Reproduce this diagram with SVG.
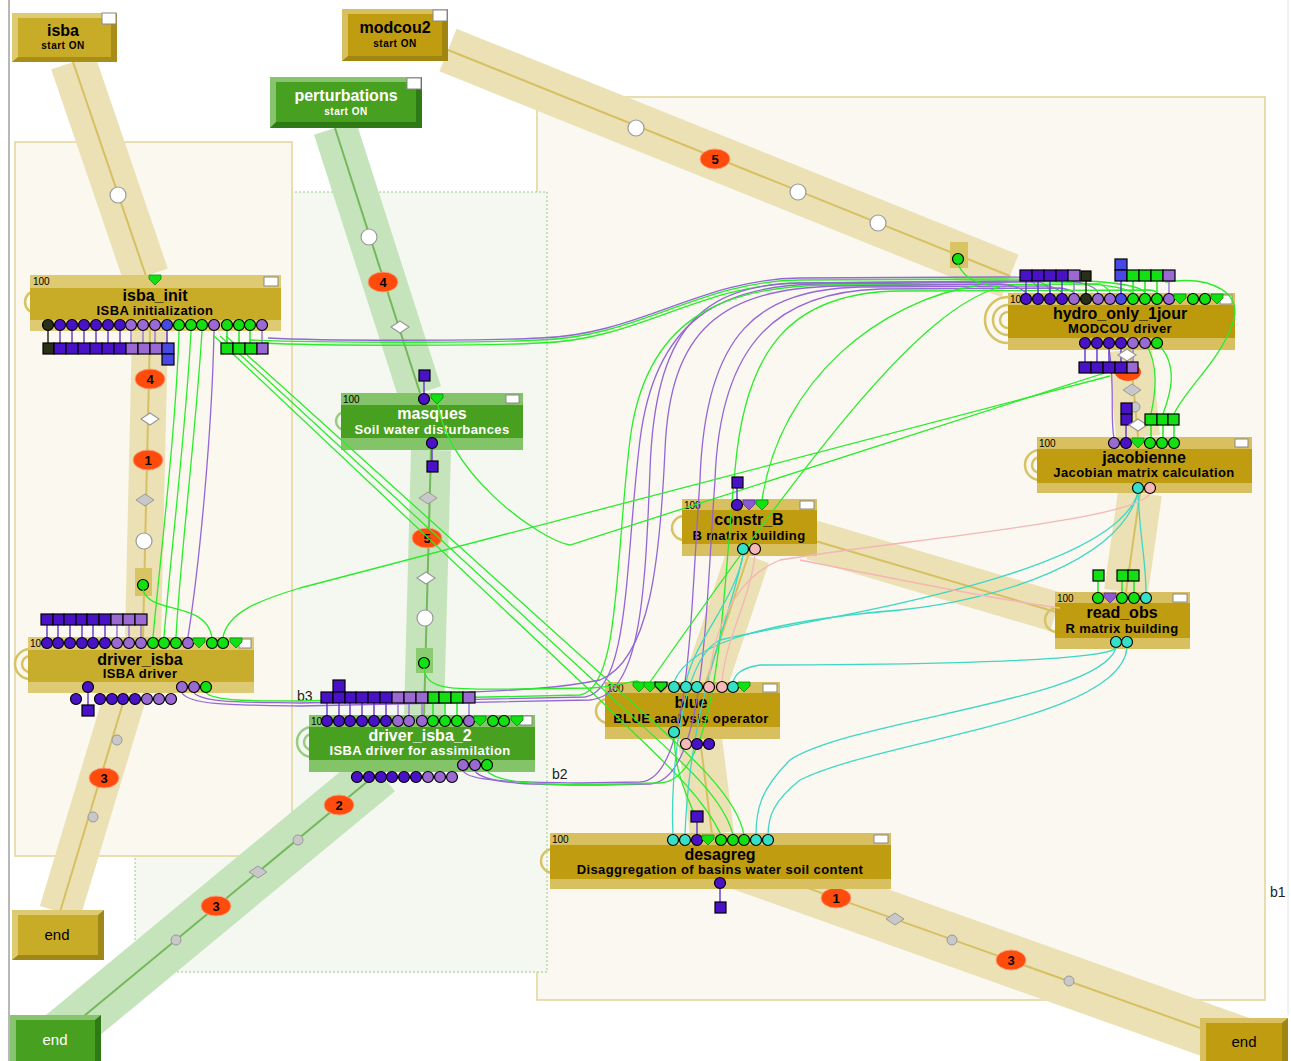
<svg xmlns="http://www.w3.org/2000/svg" xmlns:xlink="http://www.w3.org/1999/xlink" width="1291" height="1061" viewBox="0 0 1291 1061">
<style>
text{font-family:"Liberation Sans",Arial,sans-serif}
.tt{font-size:16px;font-weight:bold;text-anchor:middle}
.ts{font-size:13px;font-weight:bold;text-anchor:middle;letter-spacing:0.4px}
.w{fill:#fff}
.num{font-size:10px}
.chk{fill:#fff;stroke:#888;stroke-width:1}
.d{fill:#4a12c6;stroke:#000;stroke-width:1.2}
.l{fill:#9a6ad2;stroke:#000;stroke-width:1.2}
.g{fill:#12e012;stroke:#000;stroke-width:1.2}
.b{fill:#4848e4;stroke:#000;stroke-width:1.2}
.k{fill:#283018;stroke:#000;stroke-width:1.2}
.c{fill:#34e0c8;stroke:#000;stroke-width:1.2}
.p{fill:#f6b8b8;stroke:#000;stroke-width:1.2}
.tg{fill:#12e012;stroke:#0a8a0a;stroke-width:0.8}
.tp{fill:#8a5ad0;stroke:#5a2aa0;stroke-width:0.8}
.td{fill:#12e012;stroke:#000;stroke-width:1.2}
.lnd{stroke:#6a40d0;stroke-width:1.5;fill:none}
.lnl{stroke:#a07ad8;stroke-width:1.5;fill:none}
.lng{stroke:#22e822;stroke-width:1.5;fill:none}
.lnk{stroke:#283018;stroke-width:1.5;fill:none}
.loopT{fill:none;stroke:#d8c266;stroke-width:2.5}
.loopG{fill:none;stroke:#98cc80;stroke-width:2.5}
.bt{fill:none;stroke:#ebe1b4}
.btl{fill:none;stroke:#d6c062;stroke-width:2}
.bg{fill:none;stroke:#c6e4bc}
.bgl{fill:none;stroke:#74b85c;stroke-width:2}
.ord ellipse{fill:#ff4c0c;stroke:#f8a080;stroke-width:1}
.ord text{font-size:13px;font-weight:bold;text-anchor:middle}
.mw{fill:#fff;stroke:#999;stroke-width:1.2}
.mg{fill:#c8c8c8;stroke:#999;stroke-width:1}
.cg{fill:none;stroke:#2aec2a;stroke-width:1.3}
.cp{fill:none;stroke:#9466d6;stroke-width:1.3}
.cc{fill:none;stroke:#3cd8c4;stroke-width:1.3}
.ck{fill:none;stroke:#f4b6b6;stroke-width:1.3}
.lbl{font-size:14px;fill:#222}
.st1{font-size:16px;font-weight:bold;text-anchor:middle}
.st2{font-size:10px;font-weight:bold;text-anchor:middle;letter-spacing:0.5px}
.en{font-size:15px;text-anchor:middle}
</style>
<defs>
<path id="tri" d="M-6,-5 H6 V-1 L0,5 L-6,-1Z"/>
<path id="dia" d="M-9,0 L0,-6 L9,0 L0,6Z"/>
</defs>
<rect width="1291" height="1061" fill="#fff"/>
<line x1="9" y1="0" x2="9" y2="1061" stroke="#b8b8b8" stroke-width="2"/>
<line x1="1288" y1="0" x2="1288" y2="1015" stroke="#e4e4e4" stroke-width="1"/>

<g id="regions">
<rect x="537" y="97" width="728" height="903" fill="#faf8f0" stroke="#e2d396" stroke-width="1.5"/>
<rect x="135" y="192" width="412" height="780" fill="#f4f8f1" stroke="#98cc88" stroke-width="1" stroke-dasharray="2,2"/>
<rect x="15" y="142" width="277" height="714" fill="#faf8ef" stroke="#e4d49c" stroke-width="1.5"/>
<text x="297" y="701" class="lbl">b3</text>
<text x="552" y="779" class="lbl">b2</text>
<text x="1270" y="897" class="lbl">b1</text>
</g>

<g id="bands">
<line x1="73" y1="62" x2="146" y2="276" class="bt" stroke-width="46"/>
<line x1="150" y1="331" x2="143" y2="637" class="bt" stroke-width="36"/>
<line x1="126" y1="693" x2="60" y2="912" class="bt" stroke-width="42"/>
<line x1="448" y1="50" x2="1010" y2="276" class="bt" stroke-width="46"/>
<line x1="1130" y1="350" x2="1138" y2="437" class="bt" stroke-width="44"/>
<line x1="1140" y1="493" x2="1126" y2="592" class="bt" stroke-width="44"/>
<line x1="1056" y1="612" x2="812" y2="540" class="bt" stroke-width="40"/>
<polyline points="748,556 706,682 700,739 712,834" class="bt" stroke-width="44"/>
<line x1="740" y1="864" x2="1245" y2="1044" class="bt" stroke-width="52"/>
<line x1="335" y1="128" x2="420" y2="393" class="bg" stroke-width="44"/>
<line x1="431" y1="450" x2="424" y2="715" class="bg" stroke-width="40"/>
<line x1="379" y1="772" x2="55" y2="1040" class="bg" stroke-width="50"/>
<line x1="73" y1="62" x2="146" y2="276" class="btl"/>
<line x1="150" y1="331" x2="143" y2="637" class="btl"/>
<line x1="126" y1="693" x2="60" y2="912" class="btl"/>
<line x1="448" y1="50" x2="1010" y2="276" class="btl"/>
<line x1="1130" y1="350" x2="1138" y2="437" class="btl"/>
<line x1="1140" y1="493" x2="1126" y2="592" class="btl"/>
<line x1="1056" y1="612" x2="812" y2="540" class="btl"/>
<polyline points="748,556 706,682 700,739 712,834" class="btl"/>
<line x1="760" y1="871" x2="1245" y2="1044" class="btl"/>
<line x1="335" y1="128" x2="420" y2="393" class="bgl"/>
<line x1="431" y1="450" x2="424" y2="715" class="bgl"/>
<line x1="379" y1="772" x2="55" y2="1040" class="bgl"/>
</g>

<g id="markers">
<circle cx="118" cy="195" r="8" class="mw"/>
<g class="ord"><ellipse cx="150" cy="379" rx="15" ry="10"/><text x="150" y="384">4</text></g>
<use href="#dia" x="150" y="419" class="mw"/>
<g class="ord"><ellipse cx="148" cy="460" rx="15" ry="10"/><text x="148" y="465">1</text></g>
<use href="#dia" x="145" y="500" class="mg"/>
<circle cx="144" cy="541" r="8" class="mw"/>
<rect x="135" y="568" width="17" height="28" fill="#d8c462"/>
<circle cx="143" cy="585" r="5.5" class="g"/>
<circle cx="117" cy="740" r="5" class="mg"/>
<g class="ord"><ellipse cx="104" cy="778" rx="15" ry="10"/><text x="104" y="783">3</text></g>
<circle cx="93" cy="817" r="5" class="mg"/>
<circle cx="369" cy="237" r="8" class="mw"/>
<g class="ord"><ellipse cx="383" cy="282" rx="15" ry="10"/><text x="383" y="287">4</text></g>
<use href="#dia" x="400" y="327" class="mw"/>
<use href="#dia" x="428" y="498" class="mg"/>
<g class="ord"><ellipse cx="427" cy="538" rx="15" ry="10"/><text x="427" y="543">5</text></g>
<use href="#dia" x="426" y="578" class="mw"/>
<circle cx="425" cy="618" r="8" class="mw"/>
<rect x="416" y="648" width="17" height="25" fill="#8ccc70"/>
<circle cx="424" cy="663" r="5.5" class="g"/>
<g class="ord"><ellipse cx="339" cy="805" rx="15" ry="10"/><text x="339" y="810">2</text></g>
<circle cx="298" cy="840" r="5" class="mg"/>
<use href="#dia" x="258" y="872" class="mg"/>
<g class="ord"><ellipse cx="216" cy="906" rx="15" ry="10"/><text x="216" y="911">3</text></g>
<circle cx="176" cy="940" r="5" class="mg"/>
<circle cx="636" cy="128" r="8" class="mw"/>
<g class="ord"><ellipse cx="715" cy="159" rx="15" ry="10"/><text x="715" y="164">5</text></g>
<circle cx="798" cy="192" r="8" class="mw"/>
<circle cx="878" cy="223" r="8" class="mw"/>
<rect x="950" y="242" width="18" height="26" fill="#d8c462"/>
<circle cx="958" cy="259" r="5.5" class="g"/>
<ellipse cx="1128" cy="372" rx="13" ry="9" fill="#ff4c0c"/>
<use href="#dia" x="1132" y="390" class="mg"/>
<circle cx="1135" cy="407" r="5" class="mg"/>
<g class="ord"><ellipse cx="836" cy="898" rx="15" ry="10"/><text x="836" y="903">1</text></g>
<use href="#dia" x="895" y="919" class="mg"/>
<circle cx="952" cy="940" r="5" class="mg"/>
<g class="ord"><ellipse cx="1011" cy="960" rx="15" ry="10"/><text x="1011" y="965">3</text></g>
<circle cx="1069" cy="981" r="5" class="mg"/>
</g>

<g id="isba">
<rect x="12" y="13" width="105" height="49" fill="#a88e18"/>
<polygon points="12,13 117,13 111,18 18,18 18,57 12,62" fill="#ddca72"/>
<rect x="18" y="18" width="93" height="39" fill="#c8ac28"/>
<rect x="102" y="13" width="14" height="11" class="chk"/>
<text x="63" y="36" class="st1">isba</text>
<text x="63" y="49" class="st2">start ON</text>
</g>
<g id="modcou2">
<rect x="342" y="9" width="106" height="52" fill="#a08510"/>
<polygon points="342,9 448,9 442,14 348,14 348,56 342,61" fill="#d8c060"/>
<rect x="348" y="14" width="94" height="42" fill="#bf9c10"/>
<rect x="433" y="10" width="14" height="11" class="chk"/>
<text x="395" y="33" class="st1">modcou2</text>
<text x="395" y="47" class="st2">start ON</text>
</g>
<g id="perturbations">
<rect x="270" y="77" width="152" height="51" fill="#2e7a14"/>
<polygon points="270,77 422,77 416,82 276,82 276,122 270,128" fill="#88c470"/>
<rect x="276" y="82" width="140" height="40" fill="#48a020"/>
<rect x="407" y="78" width="14" height="11" class="chk"/>
<text x="346" y="101" class="st1 w">perturbations</text>
<text x="346" y="115" class="st2 w">start ON</text>
</g>
<g id="end_isba">
<rect x="12" y="910" width="92" height="50" fill="#a08818"/>
<polygon points="12,910 104,910 98,915 18,915 18,955 12,960" fill="#ddca72"/>
<rect x="18" y="915" width="80" height="40" fill="#c8ac28"/>
<text x="57" y="940" class="en">end</text>
</g>
<g id="end_pert">
<rect x="10" y="1015" width="91" height="46" fill="#2e7a14"/>
<polygon points="10,1015 101,1015 95,1020 16,1020 16,1061 10,1061" fill="#88c470"/>
<rect x="16" y="1020" width="79" height="41" fill="#48a020"/>
<text x="55" y="1045" class="en w">end</text>
</g>
<g id="end_modcou">
<rect x="1200" y="1018" width="88" height="43" fill="#a08510"/>
<polygon points="1200,1018 1288,1018 1282,1023 1206,1023 1206,1061 1200,1061" fill="#d8c060"/>
<rect x="1206" y="1023" width="76" height="38" fill="#bf9c10"/>
<text x="1244" y="1047" class="en">end</text>
</g>

<g id="isba_init">
<circle cx="36" cy="302" r="11" class="loopT"/>
<rect x="30" y="275" width="251" height="56" fill="#ddca72"/>
<rect x="30" y="288" width="251" height="32" fill="#c8ac28"/>
<text x="33" y="285" class="num">100</text>
<rect x="264" y="277" width="14" height="9" class="chk"/>
<use href="#tri" x="155" y="280" class="tg"/>
<text x="155" y="301" class="tt">isba_init</text>
<text x="155" y="315" class="ts">ISBA initialization</text>
</g>
<g id="masques">
<circle cx="345" cy="421" r="9" class="loopG"/>
<rect x="341" y="393" width="182" height="57" fill="#84c468"/>
<rect x="341" y="405" width="182" height="33" fill="#48a020"/>
<text x="343" y="403" class="num">100</text>
<rect x="506" y="395" width="13" height="8" class="chk"/>
<text x="432" y="419" class="tt w">masques</text>
<text x="432" y="434" class="ts w">Soil water disturbances</text>
</g>
<g id="driver_isba">
<circle cx="30" cy="664" r="8" class="loopT"/>
<circle cx="30" cy="664" r="15" class="loopT"/>
<rect x="28" y="637" width="226" height="56" fill="#ddca72"/>
<rect x="28" y="650" width="226" height="32" fill="#c8ac2c"/>
<text x="30" y="647" class="num">10</text>
<rect x="239" y="639" width="12" height="9" class="chk"/>
<text x="140" y="665" class="tt">driver_isba</text>
<text x="140" y="678" class="ts">ISBA driver</text>
</g>
<g id="driver_isba_2">
<circle cx="312" cy="742" r="8" class="loopG"/>
<circle cx="312" cy="742" r="15" class="loopG"/>
<rect x="309" y="715" width="226" height="57" fill="#84c468"/>
<rect x="309" y="727" width="226" height="33" fill="#48a020"/>
<text x="311" y="725" class="num">10</text>
<rect x="520" y="716" width="12" height="9" class="chk"/>
<text x="420" y="741" class="tt w">driver_isba_2</text>
<text x="420" y="755" class="ts w">ISBA driver for assimilation</text>
</g>
<g id="hydro_only_1jour">
<circle cx="1008" cy="320" r="8" class="loopT"/>
<circle cx="1008" cy="320" r="15" class="loopT"/>
<circle cx="1008" cy="320" r="23" class="loopT"/>
<rect x="1008" y="293" width="227" height="57" fill="#d8c060"/>
<rect x="1008" y="305" width="227" height="33" fill="#bc9a0c"/>
<text x="1010" y="303" class="num">10</text>
<rect x="1220" y="295" width="12" height="9" class="chk"/>
<text x="1120" y="319" class="tt">hydro_only_1jour</text>
<text x="1120" y="333" class="ts">MODCOU driver</text>
</g>
<g id="jacobienne">
<circle cx="1040" cy="465" r="8" class="loopT"/>
<circle cx="1040" cy="465" r="15" class="loopT"/>
<rect x="1037" y="437" width="215" height="56" fill="#d8c060"/>
<rect x="1037" y="449" width="215" height="34" fill="#bf9c10"/>
<text x="1039" y="447" class="num">100</text>
<rect x="1235" y="439" width="13" height="8" class="chk"/>
<text x="1144" y="463" class="tt">jacobienne</text>
<text x="1144" y="477" class="ts">Jacobian matrix calculation</text>
</g>
<g id="constr_B">
<circle cx="684" cy="528" r="12" class="loopT"/>
<rect x="682" y="499" width="135" height="57" fill="#d8c060"/>
<rect x="682" y="510" width="135" height="34" fill="#bf9c10"/>
<text x="684" y="509" class="num">100</text>
<rect x="800" y="501" width="14" height="8" class="chk"/>
<text x="749" y="525" class="tt">constr_B</text>
<text x="749" y="540" class="ts">B matrix building</text>
</g>
<g id="read_obs">
<circle cx="1057" cy="620" r="12" class="loopT"/>
<rect x="1055" y="592" width="135" height="57" fill="#d8c060"/>
<rect x="1055" y="603" width="135" height="35" fill="#bf9c10"/>
<text x="1057" y="602" class="num">100</text>
<rect x="1173" y="594" width="14" height="8" class="chk"/>
<text x="1122" y="618" class="tt">read_obs</text>
<text x="1122" y="633" class="ts">R matrix building</text>
</g>
<g id="blue">
<circle cx="608" cy="711" r="12" class="loopT"/>
<rect x="605" y="682" width="175" height="57" fill="#d8c060"/>
<rect x="605" y="693" width="175" height="34" fill="#bf9c10"/>
<text x="607" y="692" class="num">100</text>
<rect x="763" y="684" width="14" height="8" class="chk"/>
<text x="691" y="708" class="tt">blue</text>
<text x="691" y="723" class="ts">BLUE analysis operator</text>
</g>
<g id="desagreg">
<circle cx="553" cy="861" r="12" class="loopT"/>
<rect x="550" y="833" width="341" height="56" fill="#d8c060"/>
<rect x="550" y="845" width="341" height="34" fill="#bf9c10"/>
<text x="552" y="843" class="num">100</text>
<rect x="874" y="835" width="14" height="8" class="chk"/>
<text x="720" y="860" class="tt">desagreg</text>
<text x="720" y="874" class="ts">Disaggregation of basins water soil content</text>
</g>

<g id="connectors">
<path class="cg" d="M179,331 C176,430 160,560 153,637"/>
<path class="cg" d="M191,331 C186,430 170,560 164,637"/>
<path class="cg" d="M202,331 C196,430 180,560 176,637"/>
<path class="cp" d="M214,331 C212,430 200,560 188,637"/>
<path class="cg" d="M143,590 C150,615 205,600 212,637"/>
<path class="cg" d="M214,336 L600,700 C650,750 700,790 721,835"/>
<path class="cg" d="M220,336 L606,692 C662,746 722,790 733,835"/>
<path class="cg" d="M226,336 L612,684 C672,740 736,790 744,835"/>
<path class="cg" d="M262,343 C320,346 480,346 540,343 C640,340 700,284 800,283 L1000,281 C1060,281 1120,283 1133,293"/>
<path class="cg" d="M250,340 C320,343 480,343 540,340 C640,337 700,281 800,280 L1000,279 C1070,279 1140,281 1145,293"/>
<path class="cp" d="M268,338 C320,341 480,341 540,338 C640,335 700,279 800,278 L1000,277 C1060,277 1095,282 1098,293"/>
<path class="cp" d="M182,693 C190,705 230,705 300,706 L590,700 C640,695 645,600 650,470 C655,330 700,285 800,283 L1030,281 Q1040,285 1038,293"/>
<path class="cp" d="M194,693 C205,703 240,702 300,703 L585,697 C630,690 625,560 640,440 C655,320 720,285 820,284 L1040,282 Q1050,286 1050,293"/>
<path class="cg" d="M206,693 C215,701 250,701 300,701 L580,695 C620,688 615,560 630,440 C645,320 720,286 830,285 L1100,284 Q1108,288 1110,293"/>
<path class="cp" d="M463,771 C470,782 520,782 580,783 L640,782 C690,780 690,620 700,480 C705,330 760,290 860,287 L1050,286 Q1060,290 1062,293"/>
<path class="cp" d="M475,771 C485,785 540,785 600,785 L650,784 C705,780 705,620 715,480 C720,340 780,292 880,289 L1060,288 Q1072,290 1074,293"/>
<path class="cg" d="M487,771 C500,786 560,786 660,783 C720,780 722,600 735,470 C745,350 790,292 900,291 L1150,290 Q1156,291 1157,293"/>
<path class="cp" d="M469,692 C520,690 560,688 600,680 C650,660 660,560 665,450 C670,330 720,288 840,286 L1000,284 Q1020,286 1026,293"/>
<path class="cg" d="M424,668 C426,690 450,690 520,689 L590,688 C625,686 638,678 639,682"/>
<path class="cg" d="M223,637 C228,612 260,600 300,588 L1110,376"/>
<path class="cg" d="M437,394 C440,470 540,540 570,545 L1114,370"/>
<path class="cg" d="M980,285 C880,300 780,380 762,500"/>
<path class="cg" d="M1000,287 C920,310 820,440 650,682"/>
<path class="cg" d="M1165,282 C1215,275 1245,295 1232,325 C1220,360 1185,390 1174,414"/>
<path class="cg" d="M1157,343 C1180,365 1170,395 1163,414"/>
<path class="cg" d="M1145,343 C1160,365 1155,395 1151,414"/>
<path class="cg" d="M958,264 C965,282 985,285 1000,287"/>
<path class="cp" d="M1109,349 C1115,380 1110,420 1114,438"/>
<path class="cc" d="M1138,493 C1120,560 1000,600 900,610 C780,620 690,640 674,682"/>
<path class="cc" d="M1138,493 C1110,580 800,620 720,640 C680,660 670,780 673,835"/>
<path class="cc" d="M743,555 C735,600 695,640 686,682"/>
<path class="cc" d="M743,555 C730,620 690,700 685,835"/>
<path class="cc" d="M1116,648 C1100,700 850,720 790,760 C760,790 756,810 756,835"/>
<path class="cc" d="M1127,648 C1120,720 880,740 800,780 C775,800 768,815 768,835"/>
<path class="cc" d="M1116,648 C1100,665 800,665 760,665 C740,668 735,675 733,682"/>
<path class="cc" d="M1138,493 C1140,540 1146,560 1146,593"/>
<path class="ck" d="M1150,493 C1140,520 900,540 780,560 C730,580 712,640 709,682"/>
<path class="ck" d="M755,555 C750,600 725,640 722,682"/>
<path class="ck" d="M800,560 C900,580 1000,600 1060,608"/>
<path class="cg" d="M674,738 C676,780 690,800 697,822"/>
</g>

<g id="ports_isba_init">
<path class="lnk" d="M48,330V343"/>
<path class="lnd" d="M60,330V343M72,330V343M84,330V343M96,330V343M108,330V343M120,330V343M167,330V343"/>
<path class="lnl" d="M131,330V343M143,330V343M155,330V343M262,330V343"/>
<path class="lng" d="M227,330V343M239,330V343M250,330V343"/>
<rect x="43" y="343" width="11" height="11" class="k"/>
<rect x="54" y="343" width="12" height="11" class="d"/><rect x="66" y="343" width="12" height="11" class="d"/><rect x="78" y="343" width="12" height="11" class="d"/><rect x="90" y="343" width="12" height="11" class="d"/><rect x="102" y="343" width="12" height="11" class="d"/><rect x="114" y="343" width="12" height="11" class="d"/>
<rect x="126" y="343" width="12" height="11" class="l"/><rect x="138" y="343" width="12" height="11" class="l"/><rect x="150" y="343" width="12" height="11" class="l"/>
<rect x="162" y="343" width="12" height="11" class="b"/><rect x="162" y="354" width="12" height="11" class="b"/>
<rect x="221" y="343" width="12" height="11" class="g"/><rect x="233" y="343" width="12" height="11" class="g"/><rect x="245" y="343" width="12" height="11" class="g"/><rect x="257" y="343" width="11" height="11" class="l"/>
<circle cx="48" cy="325" r="5.5" class="k"/>
<circle cx="60" cy="325" r="5.5" class="d"/><circle cx="72" cy="325" r="5.5" class="d"/><circle cx="84" cy="325" r="5.5" class="d"/><circle cx="96" cy="325" r="5.5" class="d"/><circle cx="108" cy="325" r="5.5" class="d"/><circle cx="120" cy="325" r="5.5" class="d"/>
<circle cx="131" cy="325" r="5.5" class="l"/><circle cx="143" cy="325" r="5.5" class="l"/><circle cx="155" cy="325" r="5.5" class="l"/>
<circle cx="167" cy="325" r="5.5" class="b"/>
<circle cx="179" cy="325" r="5.5" class="g"/><circle cx="191" cy="325" r="5.5" class="g"/><circle cx="202" cy="325" r="5.5" class="g"/>
<circle cx="214" cy="325" r="5.5" class="l"/>
<circle cx="227" cy="325" r="5.5" class="g"/><circle cx="239" cy="325" r="5.5" class="g"/><circle cx="250" cy="325" r="5.5" class="g"/>
<circle cx="262" cy="325" r="5.5" class="l"/>
</g>
<g id="ports_driver_isba">
<path class="lnd" d="M47,625V638M58,625V638M70,625V638M82,625V638M93,625V638M105,625V638M88,693V705"/>
<path class="lnl" d="M117,625V638M129,625V638M141,625V638"/>
<rect x="41" y="614" width="12" height="11" class="d"/><rect x="53" y="614" width="11" height="11" class="d"/><rect x="64" y="614" width="12" height="11" class="d"/><rect x="76" y="614" width="11" height="11" class="d"/><rect x="87" y="614" width="12" height="11" class="d"/><rect x="99" y="614" width="12" height="11" class="d"/>
<rect x="111" y="614" width="12" height="11" class="l"/><rect x="123" y="614" width="12" height="11" class="l"/><rect x="135" y="614" width="12" height="11" class="l"/>
<circle cx="47" cy="643" r="5.5" class="d"/><circle cx="58" cy="643" r="5.5" class="d"/><circle cx="70" cy="643" r="5.5" class="d"/><circle cx="82" cy="643" r="5.5" class="d"/><circle cx="93" cy="643" r="5.5" class="d"/><circle cx="105" cy="643" r="5.5" class="d"/>
<circle cx="117" cy="643" r="5.5" class="l"/><circle cx="129" cy="643" r="5.5" class="l"/><circle cx="141" cy="643" r="5.5" class="l"/>
<circle cx="153" cy="643" r="5.5" class="g"/><circle cx="164" cy="643" r="5.5" class="g"/><circle cx="176" cy="643" r="5.5" class="g"/>
<circle cx="188" cy="643" r="5.5" class="l"/>
<use href="#tri" x="199" y="643" class="tg"/>
<circle cx="212" cy="643" r="5.5" class="g"/><circle cx="223" cy="643" r="5.5" class="g"/>
<use href="#tri" x="236" y="643" class="tg"/>
<circle cx="88" cy="687" r="5.5" class="d"/>
<circle cx="182" cy="687" r="5.5" class="l"/><circle cx="194" cy="687" r="5.5" class="l"/><circle cx="206" cy="687" r="5.5" class="g"/>
<circle cx="76" cy="699" r="5.5" class="d"/>
<circle cx="100" cy="699" r="5.5" class="d"/><circle cx="112" cy="699" r="5.5" class="d"/><circle cx="123" cy="699" r="5.5" class="d"/><circle cx="135" cy="699" r="5.5" class="d"/>
<circle cx="147" cy="699" r="5.5" class="l"/><circle cx="159" cy="699" r="5.5" class="l"/><circle cx="171" cy="699" r="5.5" class="l"/>
<rect x="82" y="705" width="12" height="11" class="d"/>
</g>
<g id="ports_driver_isba_2">
<path class="lnd" d="M327,703V716M339,703V716M350,703V716M362,703V716M374,703V716M386,703V716"/>
<path class="lnl" d="M398,703V716M409,703V716M422,703V716M469,703V716"/>
<path class="lng" d="M433,703V716M445,703V716M457,703V716"/>
<rect x="333" y="680" width="12" height="12" class="d"/>
<rect x="321" y="692" width="12" height="11" class="d"/><rect x="333" y="692" width="12" height="11" class="d"/><rect x="345" y="692" width="11" height="11" class="d"/><rect x="356" y="692" width="12" height="11" class="d"/><rect x="368" y="692" width="12" height="11" class="d"/><rect x="380" y="692" width="12" height="11" class="d"/>
<rect x="392" y="692" width="12" height="11" class="l"/><rect x="404" y="692" width="12" height="11" class="l"/><rect x="416" y="692" width="12" height="11" class="l"/>
<rect x="428" y="692" width="11" height="11" class="g"/><rect x="439" y="692" width="12" height="11" class="g"/><rect x="451" y="692" width="12" height="11" class="g"/>
<rect x="463" y="692" width="12" height="11" class="l"/>
<circle cx="327" cy="721" r="5.5" class="d"/><circle cx="339" cy="721" r="5.5" class="d"/><circle cx="350" cy="721" r="5.5" class="d"/><circle cx="362" cy="721" r="5.5" class="d"/><circle cx="374" cy="721" r="5.5" class="d"/><circle cx="386" cy="721" r="5.5" class="d"/>
<circle cx="398" cy="721" r="5.5" class="l"/><circle cx="409" cy="721" r="5.5" class="l"/><circle cx="422" cy="721" r="5.5" class="l"/>
<circle cx="433" cy="721" r="5.5" class="g"/><circle cx="445" cy="721" r="5.5" class="g"/><circle cx="457" cy="721" r="5.5" class="g"/>
<circle cx="469" cy="721" r="5.5" class="l"/>
<use href="#tri" x="480" y="721" class="tg"/>
<circle cx="493" cy="721" r="5.5" class="g"/><circle cx="504" cy="721" r="5.5" class="g"/>
<use href="#tri" x="517" y="721" class="tg"/>
<circle cx="463" cy="765" r="5.5" class="l"/><circle cx="475" cy="765" r="5.5" class="l"/><circle cx="487" cy="765" r="5.5" class="g"/>
<circle cx="357" cy="777" r="5.5" class="d"/><circle cx="369" cy="777" r="5.5" class="d"/><circle cx="381" cy="777" r="5.5" class="d"/><circle cx="392" cy="777" r="5.5" class="d"/><circle cx="404" cy="777" r="5.5" class="d"/><circle cx="416" cy="777" r="5.5" class="d"/>
<circle cx="428" cy="777" r="5.5" class="l"/><circle cx="440" cy="777" r="5.5" class="l"/><circle cx="452" cy="777" r="5.5" class="l"/>
</g>
<g id="ports_masques">
<path class="lnd" d="M424,381V394M432,449V461"/>
<rect x="419" y="370" width="11" height="11" class="d"/>
<circle cx="424" cy="399" r="5.5" class="d"/>
<use href="#tri" x="437" y="399" class="tg"/>
<circle cx="432" cy="443" r="5.5" class="d"/>
<rect x="427" y="461" width="11" height="11" class="d"/>
</g>
<g id="ports_hydro">
<path class="lnd" d="M1026,281V294M1038,281V294M1050,281V294M1062,281V294M1121,281V294M1085,349V362M1097,349V362M1109,349V362M1121,349V362"/>
<path class="lnl" d="M1074,281V294M1169,281V294M1133,349V362"/>
<path class="lng" d="M1133,281V294M1145,281V294M1157,281V294"/>
<path class="lnk" d="M1086,281V294"/>
<rect x="1020" y="270" width="12" height="11" class="d"/><rect x="1032" y="270" width="12" height="11" class="d"/><rect x="1044" y="270" width="12" height="11" class="d"/><rect x="1056" y="270" width="12" height="11" class="d"/>
<rect x="1068" y="270" width="12" height="11" class="l"/>
<rect x="1081" y="271" width="10" height="10" class="k"/>
<rect x="1115" y="259" width="12" height="11" class="b"/><rect x="1115" y="270" width="12" height="11" class="b"/>
<rect x="1127" y="270" width="12" height="11" class="g"/><rect x="1139" y="270" width="12" height="11" class="g"/><rect x="1151" y="270" width="12" height="11" class="g"/>
<rect x="1163" y="270" width="12" height="11" class="l"/>
<circle cx="1026" cy="299" r="5.5" class="d"/><circle cx="1038" cy="299" r="5.5" class="d"/><circle cx="1050" cy="299" r="5.5" class="d"/><circle cx="1062" cy="299" r="5.5" class="d"/>
<circle cx="1074" cy="299" r="5.5" class="l"/>
<circle cx="1086" cy="299" r="5.5" class="k"/>
<circle cx="1098" cy="299" r="5.5" class="l"/><circle cx="1110" cy="299" r="5.5" class="l"/>
<circle cx="1121" cy="299" r="5.5" class="b"/>
<circle cx="1133" cy="299" r="5.5" class="g"/><circle cx="1145" cy="299" r="5.5" class="g"/><circle cx="1157" cy="299" r="5.5" class="g"/>
<circle cx="1169" cy="299" r="5.5" class="l"/>
<use href="#tri" x="1180" y="299" class="tg"/>
<circle cx="1193" cy="299" r="5.5" class="g"/><circle cx="1205" cy="299" r="5.5" class="g"/>
<use href="#tri" x="1217" y="299" class="tg"/>
<circle cx="1085" cy="343" r="5.5" class="d"/><circle cx="1097" cy="343" r="5.5" class="d"/><circle cx="1109" cy="343" r="5.5" class="d"/><circle cx="1121" cy="343" r="5.5" class="d"/>
<circle cx="1133" cy="343" r="5.5" class="l"/><circle cx="1145" cy="343" r="5.5" class="l"/>
<circle cx="1157" cy="343" r="5.5" class="g"/>
<use href="#dia" x="1127" y="355" class="mw"/>
<rect x="1079" y="362" width="12" height="11" class="d"/><rect x="1091" y="362" width="12" height="11" class="d"/><rect x="1103" y="362" width="12" height="11" class="d"/><rect x="1115" y="362" width="12" height="11" class="d"/>
<rect x="1127" y="362" width="11" height="11" class="l"/>
</g>
<g id="ports_jacobienne">
<path class="lnd" d="M1126,425V438"/>
<path class="lng" d="M1151,425V438M1163,425V438M1174,425V438"/>
<rect x="1121" y="403" width="11" height="11" class="d"/><rect x="1121" y="414" width="11" height="11" class="d"/>
<use href="#dia" x="1138" y="425" class="mw"/>
<rect x="1145" y="414" width="12" height="11" class="g"/><rect x="1157" y="414" width="11" height="11" class="g"/><rect x="1168" y="414" width="11" height="11" class="g"/>
<circle cx="1114" cy="443" r="5.5" class="l"/>
<circle cx="1126" cy="443" r="5.5" class="d"/>
<use href="#tri" x="1138" y="443" class="tg"/>
<circle cx="1150" cy="443" r="5.5" class="g"/><circle cx="1162" cy="443" r="5.5" class="g"/><circle cx="1174" cy="443" r="5.5" class="g"/>
<circle cx="1138" cy="488" r="5.5" class="c"/><circle cx="1150" cy="488" r="5.5" class="p"/>
</g>
<g id="ports_constr_B">
<path class="lnd" d="M737,488V500"/>
<rect x="732" y="477" width="11" height="11" class="d"/>
<circle cx="737" cy="505" r="5.5" class="d"/>
<use href="#tri" x="749" y="505" class="tp"/>
<use href="#tri" x="762" y="505" class="tg"/>
<circle cx="743" cy="549" r="5.5" class="c"/><circle cx="755" cy="549" r="5.5" class="p"/>
</g>
<g id="ports_blue">
<use href="#tri" x="639" y="687" class="tg"/><use href="#tri" x="650" y="687" class="tg"/><use href="#tri" x="661" y="687" class="td"/>
<circle cx="674" cy="687" r="5.5" class="c"/><circle cx="686" cy="687" r="5.5" class="c"/><circle cx="697" cy="687" r="5.5" class="c"/>
<circle cx="709" cy="687" r="5.5" class="p"/><circle cx="722" cy="687" r="5.5" class="p"/>
<circle cx="733" cy="687" r="5.5" class="c"/>
<use href="#tri" x="744" y="687" class="tg"/>
<circle cx="674" cy="732" r="5.5" class="c"/>
<circle cx="686" cy="744" r="5.5" class="p"/><circle cx="697" cy="744" r="5.5" class="d"/><circle cx="709" cy="744" r="5.5" class="d"/>
</g>
<g id="ports_desagreg">
<path class="lnd" d="M697,822V835M720,889V902"/>
<rect x="691" y="811" width="12" height="11" class="d"/>
<circle cx="673" cy="840" r="5.5" class="c"/><circle cx="685" cy="840" r="5.5" class="c"/>
<circle cx="697" cy="840" r="5.5" class="d"/>
<use href="#tri" x="708" y="840" class="tg"/>
<circle cx="721" cy="840" r="5.5" class="g"/><circle cx="733" cy="840" r="5.5" class="g"/><circle cx="744" cy="840" r="5.5" class="g"/>
<circle cx="756" cy="840" r="5.5" class="c"/><circle cx="768" cy="840" r="5.5" class="c"/>
<circle cx="720" cy="883" r="5.5" class="d"/>
<rect x="715" y="902" width="11" height="11" class="d"/>
</g>
<g id="ports_read_obs">
<path class="lng" d="M1098,581V593M1122,581V593M1134,581V593"/>
<rect x="1093" y="570" width="11" height="11" class="g"/><rect x="1117" y="570" width="11" height="11" class="g"/><rect x="1128" y="570" width="11" height="11" class="g"/>
<circle cx="1098" cy="598" r="5.5" class="g"/>
<use href="#tri" x="1110" y="598" class="tp"/>
<circle cx="1122" cy="598" r="5.5" class="g"/><circle cx="1134" cy="598" r="5.5" class="g"/>
<circle cx="1146" cy="598" r="5.5" class="c"/>
<circle cx="1116" cy="642" r="5.5" class="c"/><circle cx="1127" cy="642" r="5.5" class="c"/>
</g>
</svg>
